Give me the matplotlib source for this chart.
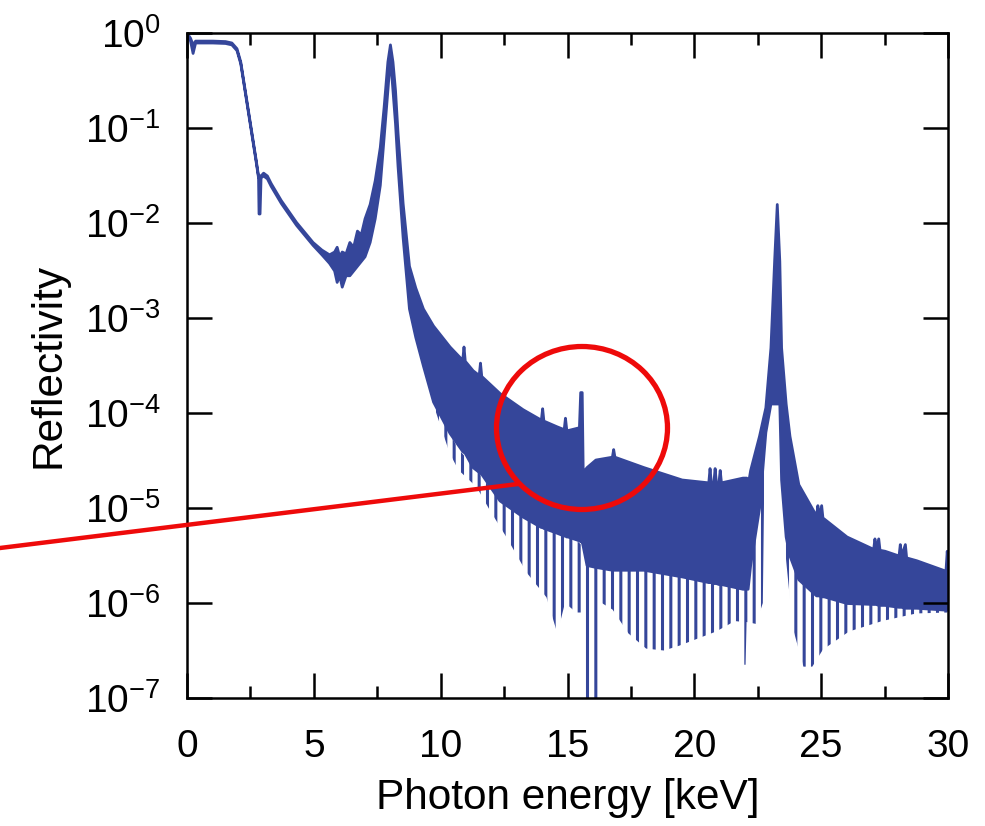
import numpy as np
import matplotlib
matplotlib.use('Agg')
import matplotlib.pyplot as plt
from matplotlib.ticker import MultipleLocator, LogLocator, NullLocator, LogFormatterMathtext
from matplotlib.patches import Ellipse
from matplotlib.lines import Line2D

# reflectivity curve (y values as log10)
# solid part of the trace: energy [keV], upper edge, lower edge
x_band = [0.02, 0.12, 0.22, 0.32, 0.5, 1.0, 1.5, 1.75, 1.95, 2.1, 2.3, 2.5, 2.7, 2.8,
          2.82, 2.86, 2.9, 3.0, 3.15, 3.3, 3.7, 4.3, 4.95, 5.3, 5.6, 5.8, 5.9, 6.0,
          6.1, 6.25, 6.4, 6.55, 6.7, 6.85, 7.0, 7.2, 7.4, 7.6, 7.75, 7.9, 8.0, 8.1,
          8.2, 8.3, 8.5, 8.75, 9.0, 9.3, 9.7, 10.35, 10.85, 10.9, 10.95, 11.26, 11.5,
          11.55, 11.6, 12.32, 13.23, 13.95, 14.0, 14.05, 14.57, 14.85, 14.9, 14.95,
          15.0, 15.45, 15.5, 15.56, 15.6, 15.75, 16.1, 16.75, 16.8, 16.85, 18.0, 19.5,
          20.55, 20.6, 20.65, 20.75, 20.8, 20.85, 20.95, 21.0, 21.05, 21.9, 22.05,
          22.1, 22.2, 22.55, 22.8, 23.0, 23.15, 23.25, 23.35, 23.42, 23.6, 23.75,
          24.1, 24.8, 24.85, 24.9, 25.0, 25.05, 25.1, 26.0, 27.05, 27.1, 27.15, 27.25,
          27.3, 27.5, 28.05, 28.1, 28.15, 28.3, 28.35, 28.75, 29.9, 29.95, 30.0]
band_hi = [-0.01, -0.05, -0.12, -0.08, -0.08, -0.08, -0.085, -0.1, -0.16, -0.3, -0.64,
           -0.98, -1.32, -1.5, -1.52, -1.5, -1.5, -1.47, -1.5, -1.58, -1.76, -1.99, -2.2,
           -2.28, -2.33, -2.3, -2.25, -2.35, -2.3, -2.32, -2.2, -2.25, -2.08, -2.12,
           -1.95, -1.8, -1.55, -1.2, -0.78, -0.3, -0.12, -0.3, -0.6, -1.05, -1.79, -2.45,
           -2.68, -2.9, -3.08, -3.3, -3.44, -3.3, -3.45, -3.55, -3.6, -3.47, -3.61,
           -3.79, -3.96, -4.07, -3.95, -4.08, -4.14, -4.17, -4.05, -4.17, -4.18, -4.15,
           -3.78, -3.78, -4.62, -4.57, -4.49, -4.46, -4.38, -4.46, -4.57, -4.7, -4.73,
           -4.58, -4.73, -4.73, -4.58, -4.73, -4.73, -4.6, -4.73, -4.68, -4.68, -4.76,
           -4.6, -4.24, -3.94, -3.31, -2.37, -1.8, -2.4, -3.31, -3.9, -4.24, -4.75,
           -5.08, -4.97, -5.09, -4.97, -5.1, -5.11, -5.3, -5.43, -5.32, -5.43, -5.32,
           -5.44, -5.45, -5.5, -5.38, -5.5, -5.38, -5.52, -5.55, -5.66, -5.45, -5.66]
band_lo = [-0.03, -0.08, -0.21, -0.1, -0.1, -0.1, -0.105, -0.12, -0.18, -0.32, -0.66,
           -1.0, -1.34, -1.52, -1.9, -1.9, -1.52, -1.5, -1.53, -1.61, -1.79, -2.02, -2.23,
           -2.33, -2.42, -2.5, -2.62, -2.55, -2.67, -2.55, -2.55, -2.5, -2.45, -2.4,
           -2.35, -2.2, -1.95, -1.6, -1.1, -0.6, -0.25, -0.6, -0.95, -1.4, -2.15, -2.9,
           -3.2, -3.5, -3.88, -4.21, -4.4, -4.41, -4.42, -4.57, -4.62, -4.63, -4.64,
           -4.92, -5.09, -5.2, -5.2, -5.21, -5.26, -5.29, -5.29, -5.3, -5.3, -5.34,
           -5.35, -5.35, -5.4, -5.6, -5.62, -5.65, -5.65, -5.65, -5.65, -5.72, -5.78,
           -5.78, -5.78, -5.79, -5.79, -5.79, -5.8, -5.8, -5.8, -5.85, -5.85, -5.85,
           -5.6, -5.0, -4.2, -3.9, -3.9, -3.9, -3.9, -4.7, -5.3, -5.5, -5.75, -5.92,
           -5.92, -5.92, -5.93, -5.93, -5.93, -6.0, -6.01, -6.01, -6.01, -6.02, -6.02,
           -6.02, -6.04, -6.04, -6.04, -6.05, -6.05, -6.05, -6.07, -6.07, -6.07]

# fringe minima below the solid part (comb of thin teeth)
x_comb_a = [9.7, 10.35, 10.7, 11.42, 11.93, 12.6, 13.39, 14.17, 14.6, 14.9, 15.35,
            15.6, 15.65, 16.3, 16.35, 16.78, 17.4, 18.1, 18.8, 19.4, 20.86, 21.6,
            21.93, 21.96, 22.02, 22.06, 22.43, 22.7, 22.78]
comb_a_hi = [-3.88, -4.21, -4.38, -4.6, -4.78, -4.97, -5.1, -5.21, -5.26, -5.3, -5.34,
             -5.4, -5.5, -5.62, -5.62, -5.65, -5.65, -5.65, -5.68, -5.72, -5.8, -5.84,
             -5.85, -5.85, -5.85, -5.8, -5.3, -4.5, -4.2]
comb_a_lo = [-3.9, -4.42, -4.6, -4.78, -5.02, -5.31, -5.68, -5.94, -6.32, -6.0, -6.1,
             -6.1, -7.5, -7.5, -6.0, -6.07, -6.32, -6.48, -6.5, -6.45, -6.3, -6.19,
             -6.2, -6.65, -6.65, -6.2, -6.22, -6.0, -4.2]
x_comb_b = [23.42, 23.6, 23.88, 24.3, 24.65, 25.07, 26.1, 27.4, 28.75, 30.0]
comb_b_hi = [-4.7, -5.3, -5.6, -5.8, -5.88, -5.93, -6.0, -6.02, -6.05, -6.07]
comb_b_lo = [-4.7, -5.5, -6.26, -6.67, -6.67, -6.49, -6.3, -6.19, -6.11, -6.1]

xticks = [0, 5, 10, 15, 20, 25, 30]

blue = '#35469a'
red = '#ee0a0a'

plt.rcParams['font.family'] = 'Liberation Sans'
plt.rcParams['mathtext.fontset'] = 'custom'
plt.rcParams['mathtext.rm'] = 'Liberation Sans'
plt.rcParams['mathtext.it'] = 'Liberation Sans:italic'
plt.rcParams['mathtext.sf'] = 'Liberation Sans'
plt.rcParams['hatch.linewidth'] = 2.2
plt.rcParams['hatch.color'] = blue

fig = plt.figure(figsize=(9.85, 8.26), dpi=100)
ax = fig.add_axes([187 / 985, 1 - 698 / 826, 761 / 985, 665 / 826])

ax.fill_between(x_band, 10 ** np.array(band_lo), 10 ** np.array(band_hi),
                facecolor=blue, edgecolor=blue, linewidth=2.0)
ax.fill_between(x_comb_a, 10 ** np.array(comb_a_lo), 10 ** np.array(comb_a_hi),
                facecolor='none', edgecolor=blue, linewidth=0, hatch='||')
ax.fill_between(x_comb_b, 10 ** np.array(comb_b_lo), 10 ** np.array(comb_b_hi),
                facecolor='none', edgecolor=blue, linewidth=0, hatch='||')

ax.set_yscale('log')
ax.set_xlim(0, 30)
ax.set_ylim(1e-7, 1e0)
ax.set_xticks(xticks)
ax.xaxis.set_minor_locator(MultipleLocator(2.5))
ax.yaxis.set_major_locator(LogLocator(base=10, numticks=10))
ax.yaxis.set_minor_locator(NullLocator())
ax.yaxis.set_major_formatter(LogFormatterMathtext())

ax.tick_params(which='both', direction='in', top=True, right=True, width=1.8)
ax.tick_params(which='major', length=18)
ax.tick_params(which='minor', length=8.5)
ax.tick_params(axis='x', which='major', labelsize=28, pad=22)
ax.tick_params(axis='y', which='major', labelsize=28, pad=19)
for s in ax.spines.values():
    s.set_linewidth(1.8)

ax.set_xlabel('Photon energy [keV]', fontsize=30.5, labelpad=10)
ax.set_ylabel('Reflectivity', fontsize=30.5, labelpad=12)

# red highlight drawn over the figure
fig.add_artist(Ellipse((582 / 985, 1 - 428 / 826), 171 / 985, 163 / 826,
                       transform=fig.transFigure, fill=False, edgecolor=red, linewidth=3.8))
fig.add_artist(Line2D([0, 518 / 985], [1 - 548 / 826, 1 - 484 / 826],
                      transform=fig.transFigure, color=red, linewidth=3.2))

fig.savefig('out.png', dpi=100)
